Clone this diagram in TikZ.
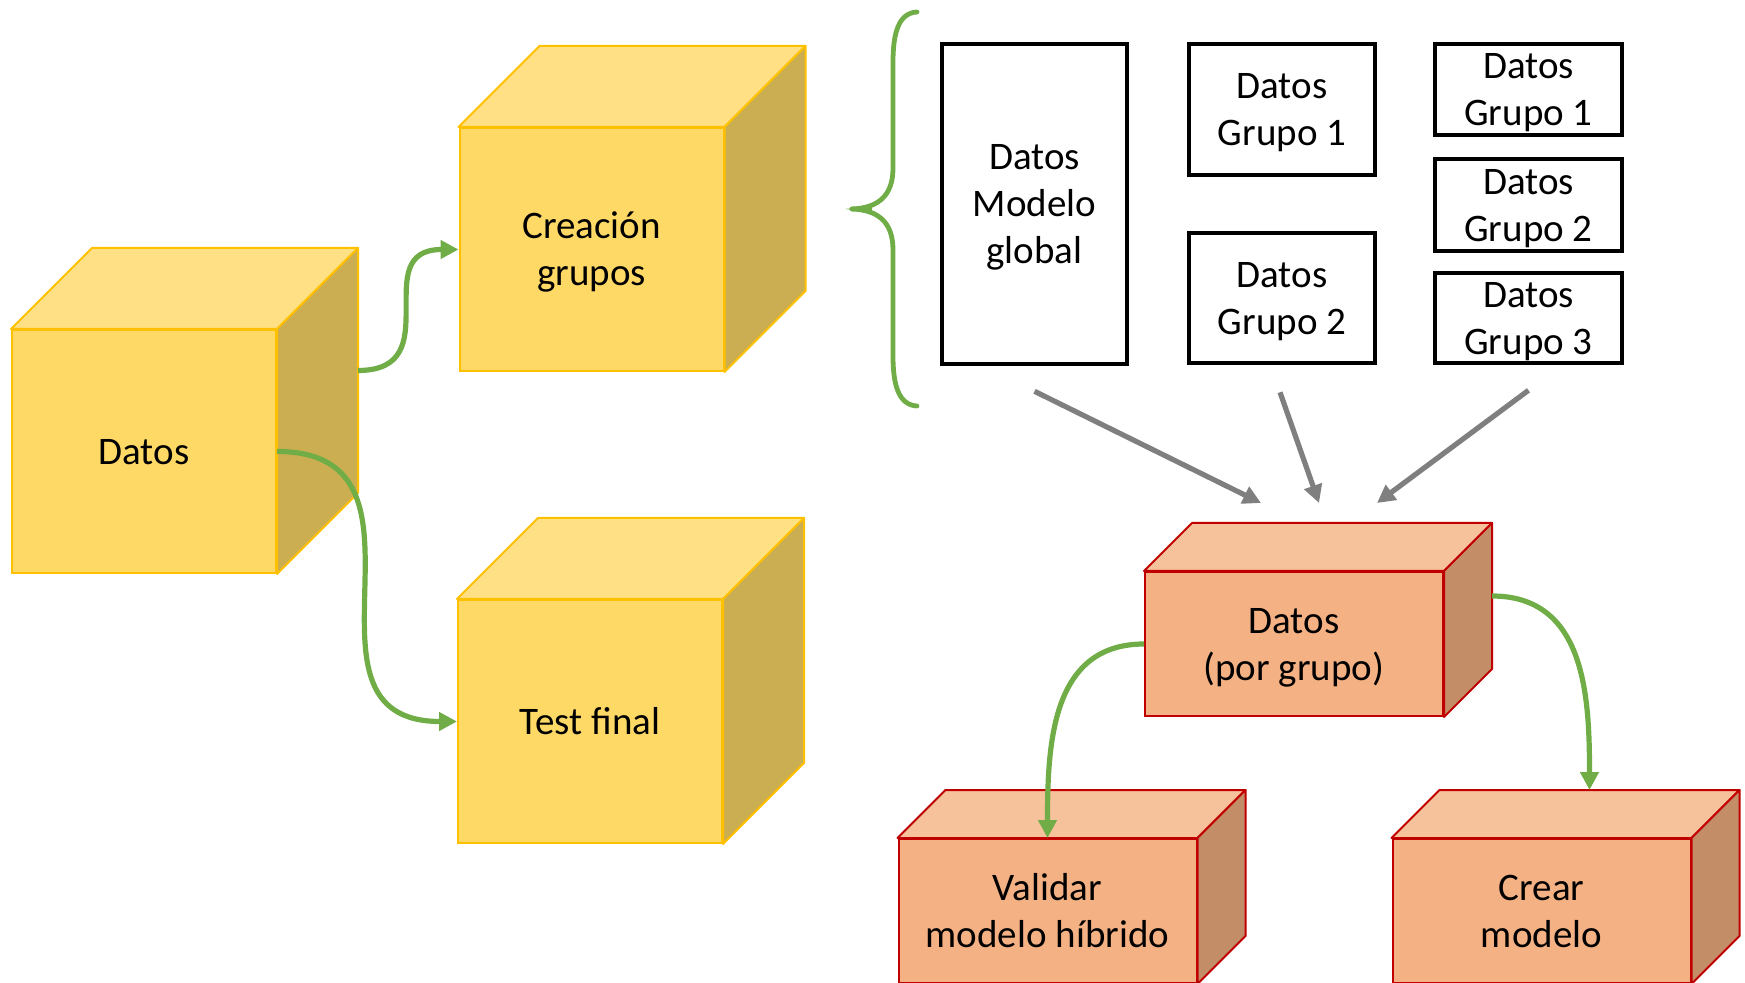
\documentclass[tikz,border=0pt]{standalone}
\usepackage{fontspec}
\setmainfont{Carlito}
\usetikzlibrary{calc,arrows.meta}

\definecolor{yfront}{HTML}{FFD966}
\definecolor{ytop}{HTML}{FFE085}
\definecolor{yside}{HTML}{CCAE52}
\definecolor{yline}{HTML}{FFC000}
\definecolor{ofront}{HTML}{F4B183}
\definecolor{otop}{HTML}{F6C29C}
\definecolor{oside}{HTML}{C38D68}
\definecolor{oline}{HTML}{C00000}
\definecolor{flow}{HTML}{70AD47}
\definecolor{feed}{HTML}{7F7F7F}

% centred block of lines with even line boxes, so every label sits the same way;
% the block takes no height, so it never enlarges the box around it
\newcommand\lines[1]{\vbox to 0pt{\vss
  \hbox{\begin{tabular}{@{}c@{}}\rule{0pt}{20pt}#1\end{tabular}}\vss}}

\tikzset{
  txt/.style={font=\fontsize{19.5}{23.5}\selectfont, inner sep=0pt},
  ycube/.style={txt, rectangle, fill=yfront, draw=yline, line width=1pt,
                minimum width=132pt, minimum height=121.5pt},
  ocube/.style={txt, rectangle, fill=ofront, draw=oline, line width=1pt,
                minimum width=149pt, minimum height=72pt},
  databox/.style={txt, rectangle, draw=black, line width=2.3pt, minimum width=93pt},
  flowarrow/.style={draw=flow, line width=2.6pt, -{Triangle[length=9pt,width=9pt]}},
  feedarrow/.style={draw=feed, line width=2.6pt, -{Triangle[length=9pt,width=9pt]}},
  bracestyle/.style={draw=flow, line width=2.4pt, line cap=round, line join=round},
}

% top and side faces of a box whose front face is node #1
% #2 depth, #3 top colour, #4 side colour, #5 border colour, #6 border width
\newcommand\boxfaces[6]{%
  \filldraw[fill=#3, draw=#5, line width=#6, line join=round]
    (#1.north west) -- ($(#1.north west)+(#2,-#2)$) -- ($(#1.north east)+(#2,-#2)$)
    -- (#1.north east) -- cycle;
  \filldraw[fill=#4, draw=#5, line width=#6, line join=round]
    (#1.north east) -- ($(#1.north east)+(#2,-#2)$) -- ($(#1.south east)+(#2,-#2)$)
    -- (#1.south east) -- cycle;
}

\begin{document}
\begin{tikzpicture}[x=0.5pt, y=-0.5pt]
  \useasboundingbox (0,0) rectangle (1745,983);
  \clip (0,0) rectangle (1745,983);

  % yellow stage boxes
  \node[ycube] (datos) at (144,451.5) {\lines{Datos}};
  \boxfaces{datos}{81}{ytop}{yside}{yline}{1pt}
  \node[ycube] (crea) at (591.5,249.5) {\lines{Creación\\grupos}};
  \boxfaces{crea}{81}{ytop}{yside}{yline}{1pt}
  \node[ycube] (test) at (590,721.5) {\lines{Test final}};
  \boxfaces{test}{81}{ytop}{yside}{yline}{1pt}

  % orange boxes
  \node[ocube] (grp) at (1294,644) {\lines{Datos\\(por grupo)}};
  \boxfaces{grp}{48}{otop}{oside}{oline}{1pt}
  \node[ocube] (val) at (1047.5,911) {\lines{Validar\\modelo híbrido}};
  \boxfaces{val}{48}{otop}{oside}{oline}{1pt}
  \node[ocube] (crear) at (1541.5,911) {\lines{Crear\\modelo}};
  \boxfaces{crear}{48}{otop}{oside}{oline}{1pt}

  % data partitions
  \node[databox, minimum width=92.5pt, minimum height=160pt] (mg) at (1034.5,204) {\lines{Datos\\Modelo\\global}};
  \node[databox, minimum height=65.5pt] (m1) at (1282,109.5) {\lines{Datos\\Grupo 1}};
  \node[databox, minimum height=65pt] (m2) at (1282,298) {\lines{Datos\\Grupo 2}};
  \node[databox, minimum width=93.5pt, minimum height=45.5pt] (r1) at (1528.5,89.5) {\lines{Datos\\Grupo 1}};
  \node[databox, minimum width=93.5pt, minimum height=46pt] (r2) at (1528.5,205) {\lines{Datos\\Grupo 2}};
  \node[databox, minimum width=93.5pt, minimum height=45pt] (r3) at (1528.5,318) {\lines{Datos\\Grupo 3}};

  % curly brace
  \draw[bracestyle] (917,12) .. controls (899,13) and (893,32) .. (893,62) -- (893,168)
    .. controls (893,196) and (878,208) .. (852,209);
  \draw[bracestyle] (852,209) .. controls (878,210) and (893,222) .. (893,250) -- (893,356)
    .. controls (893,386) and (899,405) .. (917,406);
  \fill[flow] (845,209) -- (872,206) -- (872,212) -- cycle;

  % grey arrows into the per-group data
  \coordinate (s1) at ($(mg.south)+(0,25)$);
  \coordinate (s2) at ($(m2.south)+(-2,27)$);
  \coordinate (s3) at ($(r3.south)+(0,25)$);
  \coordinate (t1) at ($(grp.north)+(-33,-68)$);
  \coordinate (t2) at ($(grp.north)+(25,-68)$);
  \coordinate (t3) at ($(grp.north)+(83,-68)$);
  \draw[feedarrow] (s1) -- (t1);
  \draw[feedarrow] (s2) -- (t2);
  \draw[feedarrow] (s3) -- (t3);

  % green flow arrows
  \draw[flowarrow] ($(datos.east)+(81,-81)$) to[out=0,in=180,looseness=1.5] (crea.west);
  \draw[flowarrow] (datos.east) to[out=0,in=180,looseness=1.4] (test.west);
  \draw[flowarrow] (grp.west) to[out=180,in=90,looseness=1.1] (val.north);
  \draw[flowarrow] ($(grp.east)+(48,-48)$) to[out=0,in=90,looseness=1.1] ($(crear.north)+(48,-48)$);
\end{tikzpicture}
\end{document}
